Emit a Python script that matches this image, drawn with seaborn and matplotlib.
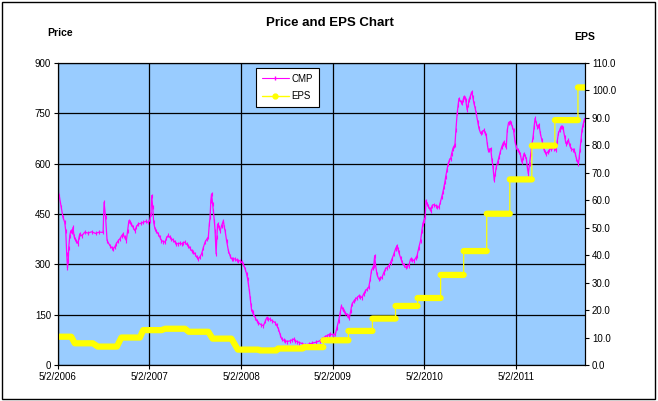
import pandas as pd
import numpy as np
import seaborn as sns
import matplotlib
matplotlib.use('Agg')
import matplotlib.pyplot as plt
from matplotlib.lines import Line2D
from matplotlib.patches import Rectangle


start_date = '2006-05-02'

# CMP: days after start_date, price
cmp_day = [0, 5, 13, 20, 27, 31, 35, 38, 41, 43, 47, 51, 56, 60, 64, 67, 73, 80, 84, 87,
           95, 107, 120, 135, 150, 165, 180, 184, 190, 196, 207, 214, 220, 227, 233, 240, 247, 254, 260, 266,
           273, 278, 283, 288, 293, 300, 307, 313, 320, 330, 340, 350, 360, 366, 371, 374, 378, 382, 387, 393,
           400, 406, 413, 420, 427, 433, 440, 447, 453, 460, 467, 473, 480, 487, 493, 500, 507, 513, 520, 527,
           533, 540, 547, 553, 560, 566, 573, 580, 587, 593, 600, 604, 607, 610, 613, 617, 620, 624, 627, 631,
           634, 637, 642, 647, 653, 660, 664, 667, 673, 680, 687, 693, 700, 707, 714, 720, 727, 733, 740, 747,
           753, 757, 760, 764, 767, 770, 773, 777, 780, 787, 793, 800, 810, 820, 827, 833, 840, 847, 855, 867,
           873, 880, 887, 893, 900, 907, 915, 927, 935, 940, 947, 953, 963, 973, 987, 1000, 1015, 1030, 1045, 1053,
           1065, 1073, 1080, 1087, 1097, 1107, 1113, 1120, 1126, 1131, 1136, 1140, 1147, 1153, 1158, 1163, 1168, 1173, 1180, 1187,
           1193, 1200, 1207, 1213, 1220, 1227, 1233, 1240, 1246, 1251, 1256, 1260, 1264, 1267, 1273, 1280, 1287, 1293, 1300, 1307,
           1313, 1320, 1327, 1333, 1340, 1347, 1353, 1357, 1360, 1367, 1373, 1380, 1387, 1393, 1400, 1407, 1413, 1420, 1427, 1433,
           1440, 1447, 1452, 1456, 1460, 1465, 1469, 1473, 1477, 1483, 1487, 1493, 1500, 1507, 1513, 1520, 1526, 1531, 1536, 1540,
           1544, 1547, 1552, 1557, 1562, 1567, 1571, 1576, 1580, 1584, 1588, 1593, 1597, 1600, 1607, 1613, 1617, 1620, 1624, 1627,
           1633, 1637, 1640, 1645, 1651, 1655, 1660, 1665, 1669, 1675, 1680, 1687, 1693, 1700, 1705, 1709, 1713, 1717, 1722, 1727,
           1732, 1736, 1741, 1745, 1749, 1755, 1760, 1765, 1771, 1776, 1780, 1785, 1789, 1793, 1798, 1803, 1808, 1813, 1818, 1824,
           1829, 1834, 1840, 1845, 1851, 1856, 1860, 1865, 1869, 1873, 1877, 1882, 1887, 1891, 1896, 1900, 1904, 1909, 1913, 1917,
           1920, 1925, 1931, 1936, 1940, 1945, 1949, 1955, 1960, 1967, 1973, 1980, 1987, 1992, 1997, 2002, 2007, 2012, 2016, 2022,
           2027, 2032, 2037, 2042, 2047, 2054, 2060, 2065, 2069, 2074, 2077, 2080, 2083, 2087, 2091, 2095, 2100, 2103]

cmp_price = [520, 505, 470, 440, 425, 400, 330, 290, 310, 350, 385, 400, 395, 410, 385, 376, 370, 362, 380, 391,
             385, 396, 393, 397, 392, 396, 395, 485, 440, 371, 356, 350, 346, 352, 362, 370, 376, 385, 391, 380,
             371, 400, 430, 425, 420, 410, 400, 412, 420, 422, 425, 428, 425, 430, 450, 505, 470, 425, 406, 398,
             391, 382, 371, 368, 366, 378, 386, 380, 376, 372, 366, 362, 361, 363, 361, 364, 366, 360, 356, 348,
             341, 336, 331, 322, 316, 322, 331, 350, 366, 374, 381, 420, 440, 490, 510, 480, 460, 430, 400, 331,
             380, 420, 410, 400, 415, 430, 410, 400, 370, 341, 325, 316, 316, 316, 312, 311, 310, 306, 300, 286,
             271, 255, 241, 220, 201, 180, 161, 158, 152, 141, 132, 126, 120, 117, 130, 141, 138, 136, 132, 126,
             118, 107, 90, 77, 74, 72, 70, 72, 75, 77, 72, 70, 67, 64, 60, 62, 65, 68, 72, 78,
             84, 87, 90, 92, 90, 92, 110, 132, 155, 176, 168, 160, 155, 150, 145, 141, 160, 181, 190, 196,
             200, 206, 204, 201, 212, 221, 226, 231, 255, 281, 290, 296, 326, 300, 270, 256, 258, 261, 275, 286,
             290, 296, 305, 316, 330, 346, 356, 345, 336, 320, 306, 298, 291, 294, 296, 316, 314, 311, 318, 326,
             350, 371, 400, 421, 430, 440, 490, 480, 475, 466, 460, 475, 478, 475, 472, 470, 485, 500, 515, 530,
             545, 560, 580, 600, 610, 615, 630, 645, 652, 655, 700, 750, 775, 794, 785, 780, 790, 800, 795, 790,
             760, 775, 790, 800, 814, 800, 780, 765, 750, 725, 705, 690, 695, 700, 690, 685, 660, 640, 642, 645,
             610, 590, 550, 570, 590, 605, 620, 635, 650, 660, 665, 655, 650, 700, 722, 725, 722, 710, 700, 665,
             650, 640, 635, 628, 605, 618, 630, 622, 615, 590, 570, 600, 630, 655, 680, 710, 735, 720, 710, 712,
             715, 690, 670, 655, 640, 635, 630, 635, 640, 645, 650, 645, 640, 665, 690, 700, 710, 708, 705, 680,
             660, 665, 670, 655, 645, 642, 640, 628, 615, 605, 600, 620, 640, 670, 700, 715, 730, 735]

# EPS levels per quarter: first day, last day, value
q_start = [0, 67, 159, 253, 340, 428, 522, 617, 718, 806, 878, 980,
           1059, 1159, 1255, 1347, 1435, 1527, 1619, 1711, 1803, 1891, 1983, 2075]
q_end = [53, 139, 235, 327, 413, 507, 600, 692, 800, 872, 976, 1059,
         1159, 1255, 1347, 1435, 1527, 1619, 1711, 1803, 1891, 1983, 2075, 2103]
eps_level = [10.3, 7.9, 6.7, 10.0, 12.7, 13.2, 12.1, 9.6, 5.6, 5.3, 6.0, 6.5,
             9.0, 12.4, 16.9, 21.5, 24.4, 32.8, 41.5, 55.1, 67.6, 79.9, 89.2, 101.1]

base = pd.Timestamp(start_date)
df = pd.DataFrame({'date': base + pd.to_timedelta(cmp_day, unit='D'), 'CMP': cmp_price})

thin, thick = [], []
for i, (s, e, v) in enumerate(zip(q_start, q_end, eps_level)):
    if i and s == q_end[i - 1]:
        thick.append((s, np.nan))   # vertical jump: only the thin line
    thin += [(s, v), (e, v)]
    thick += [(s, v), (e, v)]
thin = pd.DataFrame(thin, columns=['day', 'EPS'])
thick = pd.DataFrame(thick, columns=['day', 'EPS'])
thin['date'] = base + pd.to_timedelta(thin['day'], unit='D')
thick['date'] = base + pd.to_timedelta(thick['day'], unit='D')

sns.set_style('white')
plt.rcParams['font.family'] = ['Liberation Sans', 'DejaVu Sans']
plt.rcParams['text.color'] = 'black'
plt.rcParams['xtick.color'] = 'black'
plt.rcParams['ytick.color'] = 'black'

fig = plt.figure(figsize=(6.58, 4.01), dpi=100)
ax = fig.add_axes([0.0881, 0.0898, 0.8009, 0.7531])
ax.set_facecolor('#99CCFF')
ax2 = ax.twinx()

sns.lineplot(data=df, x='date', y='CMP', ax=ax, color='#FF00FF', lw=0.9,
             marker='|', markersize=3, markeredgewidth=0.8, markeredgecolor='#FF00FF',
             estimator=None, sort=False)
ax2.plot(thick['date'], thick['EPS'], color='#FFFF00', lw=4.5, solid_capstyle='round')
sns.lineplot(data=thin, x='date', y='EPS', ax=ax2, color='#FFFF00', lw=0.9, estimator=None, sort=False)

ticks = pd.date_range(start_date, periods=6, freq=pd.DateOffset(years=1))
ax.set_xlim(base, base + pd.Timedelta(days=q_end[-1]))
ax.set_xticks(ticks)
ax.set_xticklabels([f'{d.month}/{d.day}/{d.year}' for d in ticks])
ax.set_ylim(0, 900)
ax.set_yticks(range(0, 901, 150))
ax2.set_ylim(0, 110)
ax2.set_yticks(range(0, 111, 10))
ax2.set_yticklabels([f'{t:.1f}' for t in range(0, 111, 10)])

ax.grid(True, color='black', lw=0.9)
ax2.grid(False)
ax.set_xlabel('')
ax.set_ylabel('')
ax2.set_xlabel('')
ax2.set_ylabel('')
for a in (ax, ax2):
    for sp in a.spines.values():
        sp.set_color('black')
        sp.set_linewidth(0.8)
    a.tick_params(labelsize=7, length=3, width=0.8, direction='out',
                  color='black', labelcolor='black')
ax.tick_params(axis='y', left=True, pad=2)
ax.tick_params(axis='x', bottom=True, pad=2)
ax2.tick_params(axis='y', right=True, pad=2)

handles = [Line2D([], [], color='#FF00FF', lw=0.8, marker='|', markersize=3),
           Line2D([], [], color='#FFFF00', lw=1.0, marker='o', markersize=3.5)]
leg = ax2.legend(handles, ['CMP', 'EPS'], loc='upper left', bbox_to_anchor=(0.366, 1.0),
                 fontsize=7, frameon=True, fancybox=False, framealpha=1,
                 edgecolor='black', handlelength=2.8, handletextpad=0.3,
                 borderpad=0.6, labelspacing=0.8, labelcolor='black')
leg.get_frame().set_linewidth(0.8)

fig.text(0.5015, 0.943, 'Price and EPS Chart', ha='center', va='center',
         fontsize=9.5, fontweight='bold', color='black')
fig.text(0.091, 0.918, 'Price', ha='center', va='center', fontsize=7.5, fontweight='bold', color='black')
fig.text(0.889, 0.908, 'EPS', ha='center', va='center', fontsize=7.5, fontweight='bold', color='black')
fig.patches.append(Rectangle((0.003, 0.006), 0.993, 0.989, transform=fig.transFigure,
                             fill=False, edgecolor='black', lw=1))

fig.savefig('out.png', dpi=100)
